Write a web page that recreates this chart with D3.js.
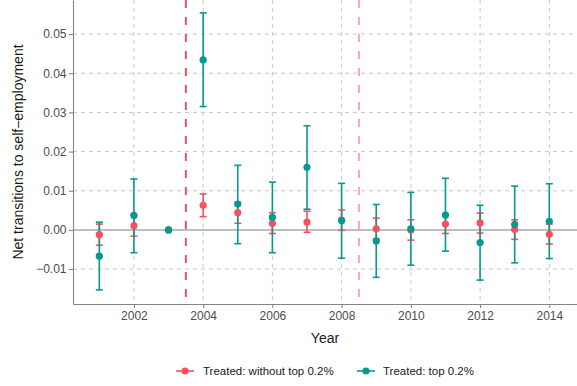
<!DOCTYPE html>
<html>
<head>
<meta charset="utf-8">
<script src="https://cdn.jsdelivr.net/npm/d3@7"></script>
<style>
  html, body { margin: 0; padding: 0; background: #ffffff; }
  svg { display: block; font-family: "Liberation Sans", Arial, sans-serif; }
</style>
</head>
<body>
<svg id="chart" width="577" height="386"></svg>
<script>
// Event-study estimates of net transitions to self-employment
const years = [2001, 2002, 2003, 2004, 2005, 2006, 2007, 2008, 2009, 2010, 2011, 2012, 2013, 2014];

// Treated: without top 0.2%
const restEst   = [-0.0012, 0.0011, 0.0000, 0.0063, 0.0044, 0.0017, 0.0020, 0.0025, 0.0003, 0.0000, 0.0015, 0.0018, 0.0001, -0.0011];
const restLow   = [-0.0039, -0.0016, 0.0000, 0.0034, 0.0017, -0.0009, -0.0006, -0.0001, -0.0023, -0.0026, -0.0009, -0.0008, -0.0024, -0.0036];
const restHigh  = [0.0015, 0.0038, 0.0000, 0.0092, 0.0071, 0.0044, 0.0048, 0.0051, 0.0030, 0.0026, 0.0039, 0.0043, 0.0026, 0.0015];

// Treated: top 0.2%
const topEst    = [-0.0067, 0.0037, 0.0000, 0.0434, 0.0066, 0.0032, 0.0160, 0.0024, -0.0028, 0.0003, 0.0038, -0.0032, 0.0014, 0.0022];
const topLow    = [-0.0153, -0.0058, 0.0000, 0.0315, -0.0035, -0.0058, 0.0053, -0.0072, -0.0121, -0.0090, -0.0054, -0.0128, -0.0084, -0.0073];
const topHigh   = [0.0020, 0.0130, 0.0000, 0.0554, 0.0165, 0.0122, 0.0266, 0.0119, 0.0065, 0.0096, 0.0132, 0.0063, 0.0112, 0.0118];

const xTicks = [2002, 2004, 2006, 2008, 2010, 2012, 2014];
const yTicks = [-0.01, 0.00, 0.01, 0.02, 0.03, 0.04, 0.05];
const eventLines = [2003.5, 2008.5];
const seriesNames = ["Treated: without top 0.2%", "Treated: top 0.2%"];

const RED = "#F8505E", TEAL = "#06998F";

const svg = d3.select("#chart");
const margin = { top: 0, right: 0, bottom: 82, left: 73 };
const W = 577, H = 386;
const iw = W - margin.left - margin.right;
const ih = H - margin.top - margin.bottom;

const x = d3.scaleLinear().domain([2000.24, 2014.8]).range([0, iw]);
const y = d3.scaleLinear().domain([-0.0189, 0.0587]).range([ih, 0]);

const g = svg.append("g").attr("transform", `translate(${margin.left},${margin.top})`);

// grid
g.append("g").selectAll("line").data(yTicks).join("line")
  .attr("x1", 0).attr("x2", iw)
  .attr("y1", d => y(d)).attr("y2", d => y(d))
  .attr("stroke", "#C6C6C6").attr("stroke-width", 1).attr("stroke-dasharray", "4,4");
g.append("g").selectAll("line").data(xTicks).join("line")
  .attr("y1", 0).attr("y2", ih)
  .attr("x1", d => x(d)).attr("x2", d => x(d))
  .attr("stroke", "#C6C6C6").attr("stroke-width", 1).attr("stroke-dasharray", "4,4");

// zero reference line
g.append("line")
  .attr("x1", 0).attr("x2", iw).attr("y1", y(0)).attr("y2", y(0))
  .attr("stroke", "#BEBEBE").attr("stroke-width", 2);

// treatment timing lines
g.append("line")
  .attr("x1", x(eventLines[0])).attr("x2", x(eventLines[0])).attr("y1", 0).attr("y2", ih)
  .attr("stroke", "#DE5A5E").attr("stroke-width", 2).attr("stroke-dasharray", "8,9");
g.append("line")
  .attr("x1", x(eventLines[1])).attr("x2", x(eventLines[1])).attr("y1", 0).attr("y2", ih)
  .attr("stroke", "#F3A9B6").attr("stroke-width", 2).attr("stroke-dasharray", "8,9");

const series = [
  { name: seriesNames[0], color: RED, est: restEst, lo: restLow, hi: restHigh },
  { name: seriesNames[1], color: TEAL, est: topEst, lo: topLow, hi: topHigh }
];

// error bars (reference year has none)
const capHalf = 3.5;
series.forEach(s => {
  const rows = years.map((yr, i) => ({ yr, lo: s.lo[i], hi: s.hi[i] })).filter(r => r.hi !== r.lo);
  const eb = g.append("g").attr("stroke", s.color).attr("stroke-width", 1.6).attr("fill", "none");
  eb.selectAll("line.v").data(rows).join("line").attr("class", "v")
    .attr("x1", d => x(d.yr)).attr("x2", d => x(d.yr))
    .attr("y1", d => y(d.lo)).attr("y2", d => y(d.hi));
  eb.selectAll("line.t").data(rows).join("line").attr("class", "t")
    .attr("x1", d => x(d.yr) - capHalf).attr("x2", d => x(d.yr) + capHalf)
    .attr("y1", d => y(d.hi)).attr("y2", d => y(d.hi));
  eb.selectAll("line.b").data(rows).join("line").attr("class", "b")
    .attr("x1", d => x(d.yr) - capHalf).attr("x2", d => x(d.yr) + capHalf)
    .attr("y1", d => y(d.lo)).attr("y2", d => y(d.lo));
});

// point estimates
series.forEach(s => {
  g.append("g").selectAll("circle").data(years.map((yr, i) => ({ yr, v: s.est[i] }))).join("circle")
    .attr("cx", d => x(d.yr)).attr("cy", d => y(d.v)).attr("r", 3.6)
    .attr("fill", s.color);
});

// axes
const xAxis = g.append("g").attr("transform", `translate(0,${ih})`)
  .call(d3.axisBottom(x).tickValues(xTicks).tickFormat(d3.format("d")).tickSize(4).tickSizeOuter(0));
const yAxis = g.append("g")
  .call(d3.axisLeft(y).tickValues(yTicks).tickFormat(d3.format(".2f")).tickSize(4).tickSizeOuter(0));
[xAxis, yAxis].forEach(a => {
  a.select(".domain").attr("stroke", "#858585").attr("stroke-width", 1.1);
  a.selectAll(".tick line").attr("stroke", "#858585").attr("stroke-width", 1.1);
  a.selectAll(".tick text").attr("fill", "#4D4D4D").attr("font-size", 12)
    .attr("font-family", "Liberation Sans, Arial, sans-serif");
});
yAxis.selectAll(".tick text").attr("x", -6.5).text(d => d3.format(".2f")(d).replace("-", "\u2212"));
xAxis.selectAll(".tick text").attr("y", 7);

// axis titles
svg.append("text")
  .attr("x", margin.left + iw / 2).attr("y", 343)
  .attr("text-anchor", "middle").attr("font-size", 14).attr("fill", "#1A1A1A")
  .text("Year");
svg.append("text")
  .attr("transform", `translate(23,${margin.top + ih / 2}) rotate(-90)`)
  .attr("text-anchor", "middle").attr("font-size", 14).attr("fill", "#1A1A1A")
  .text("Net transitions to self\u2212employment");

// legend
const legend = svg.append("g").attr("transform", "translate(176,371)");
const legendItems = [
  { name: seriesNames[0], color: RED, x0: 0, tx: 27 },
  { name: seriesNames[1], color: TEAL, x0: 181, tx: 207 }
];
legendItems.forEach(it => {
  legend.append("line").attr("x1", it.x0).attr("x2", it.x0 + 18).attr("y1", 0).attr("y2", 0)
    .attr("stroke", it.color).attr("stroke-width", 1.6);
  legend.append("circle").attr("cx", it.x0 + 9).attr("cy", 0).attr("r", 3.6).attr("fill", it.color);
  legend.append("text").attr("x", it.tx).attr("y", 4).attr("font-size", 11.5).attr("fill", "#1A1A1A")
    .text(it.name);
});
</script>
</body>
</html>
